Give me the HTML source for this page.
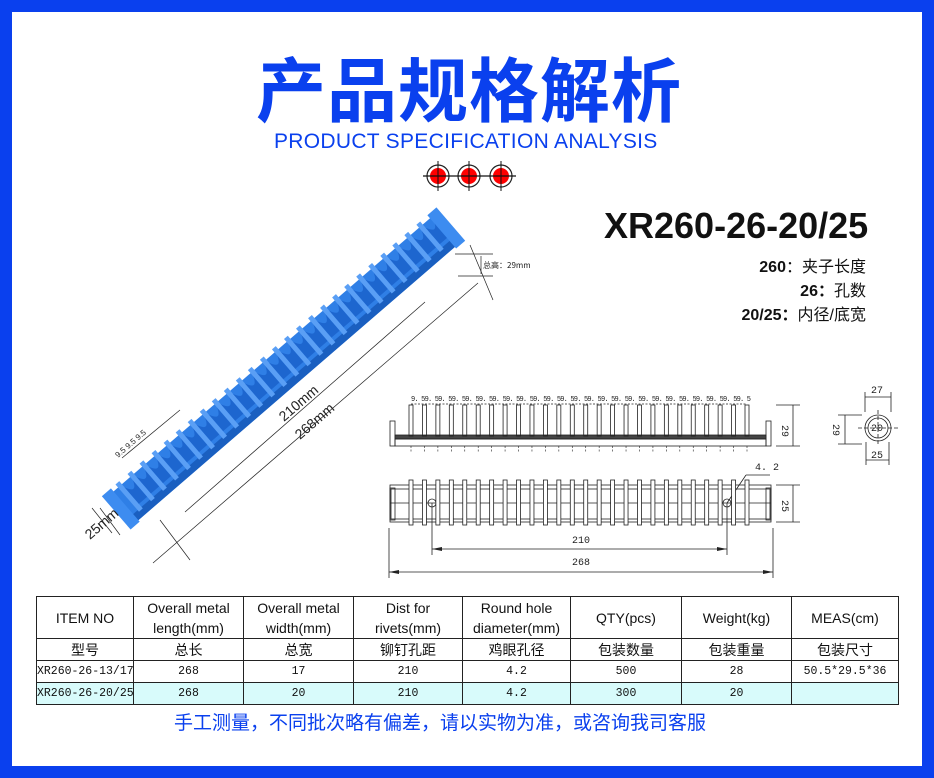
<!DOCTYPE html>
<html><head><meta charset="utf-8"><style>
*{margin:0;padding:0;box-sizing:border-box}
body{width:934px;height:778px;background:#fff;position:relative;overflow:hidden;font-family:"Liberation Sans","Noto Sans CJK SC",sans-serif}
.frame{position:absolute;left:0;top:0;width:934px;height:778px;border:12px solid #0a40ee}
.t{position:absolute;white-space:nowrap;line-height:1}
table{position:absolute;left:36px;top:596px;width:863px;border-collapse:collapse;font-size:13px;table-layout:fixed}
td{border:1.5px solid #222;text-align:center;color:#111;padding:0;white-space:nowrap;overflow:hidden}
.h td{height:42px;line-height:20px;font-size:14px}
.c td{height:22px;font-size:14px;line-height:20px}
.d td{height:22px;font-family:"Liberation Mono","Noto Sans CJK SC",monospace;font-size:11.5px;line-height:20px}
.b td{background:#d8fbfb}
</style></head><body>
<div class="frame"></div>
<div class="t" style="left:256px;top:52px;font-size:70px;font-weight:bold;color:#0a40ee;font-family:'Noto Sans CJK SC',sans-serif;letter-spacing:1px">产品规格解析</div>
<div class="t" style="left:274px;top:131px;font-size:21px;color:#0a40ee;letter-spacing:0.3px">PRODUCT SPECIFICATION ANALYSIS</div>
<div class="t" style="left:604px;top:208px;font-size:36px;font-weight:bold;color:#111">XR260-26-20/25</div>
<div class="t" style="right:68px;top:256px;font-size:16px;color:#111;text-align:right;line-height:24px"><b>260</b>：夹子长度<br><b>26：</b>孔数<br><b>20/25：</b>内径/底宽</div>
<svg id="s" width="934" height="778" style="position:absolute;left:0;top:0" font-family="Liberation Mono,monospace">
<g>
<circle cx="438" cy="176" r="11" fill="none" stroke="#222" stroke-width="1.2"/><circle cx="438" cy="176" r="8" fill="red"/>
<circle cx="469" cy="176" r="11" fill="none" stroke="#222" stroke-width="1.2"/><circle cx="469" cy="176" r="8" fill="red"/>
<circle cx="501" cy="176" r="11" fill="none" stroke="#222" stroke-width="1.2"/><circle cx="501" cy="176" r="8" fill="red"/>
<line x1="423" y1="176" x2="516" y2="176" stroke="#111" stroke-width="1.2"/>
<line x1="438" y1="161" x2="438" y2="191" stroke="#111"/><line x1="469" y1="161" x2="469" y2="191" stroke="#111"/><line x1="501" y1="161" x2="501" y2="191" stroke="#111"/>
</g>
<g transform="translate(126,515) rotate(-40.8)">
<rect x="0" y="-26" width="430" height="38" fill="#2f7fe6"/>
<rect x="0" y="4" width="430" height="8" fill="#1a5fc0"/>
<g id="ribs"></g>
<rect x="-6" y="-30" width="12" height="44" fill="#3d8cf0"/>
<rect x="424" y="-30" width="12" height="44" fill="#3d8cf0"/>
</g>
<g stroke="#222" stroke-width="0.7" fill="none">
<line x1="153" y1="563" x2="478" y2="283"/>
<line x1="185" y1="512" x2="425" y2="302"/>
<line x1="160" y1="520" x2="190" y2="560"/><line x1="470" y1="245" x2="493" y2="300"/>
<line x1="100" y1="508" x2="120" y2="535"/>
<line x1="92" y1="508" x2="112" y2="533"/>
<line x1="455" y1="254" x2="493" y2="254"/><line x1="458" y1="276" x2="493" y2="276"/><line x1="481" y1="256" x2="481" y2="274"/>
<line x1="122" y1="458" x2="180" y2="410"/>
</g>
<text x="483" y="268" font-size="8" font-family="Noto Sans CJK SC,sans-serif" fill="#222">总高：29mm</text>
<text transform="translate(284,422) rotate(-40.8)" font-size="14" font-family="Liberation Sans,sans-serif" fill="#222">210mm</text>
<text transform="translate(300,440) rotate(-40.8)" font-size="14" font-family="Liberation Sans,sans-serif" fill="#222">268mm</text>
<text transform="translate(90,540) rotate(-40.8)" font-size="14" font-family="Liberation Sans,sans-serif" fill="#222">25mm</text>
<text transform="translate(118,458) rotate(-40.8)" font-size="8" font-family="Liberation Sans,sans-serif" fill="#222">9.5 9.5 9.5</text>
<g stroke="#222" fill="none" stroke-width="0.8">
<rect x="390" y="421" width="5" height="25"/><rect x="766" y="421" width="5" height="25"/>
<rect x="395" y="435" width="371" height="4" fill="#444"/><rect x="395" y="439" width="371" height="7"/>
<line x1="776" y1="405" x2="800" y2="405"/><line x1="776" y1="446" x2="800" y2="446"/><line x1="793" y1="405" x2="793" y2="446"/>
<line x1="411" y1="404" x2="747" y2="404" stroke-dasharray="2 1.5"/>
</g>
<text x="411" y="401" font-size="7" fill="#222" textLength="340">9. 59. 59. 59. 59. 59. 59. 59. 59. 59. 59. 59. 59. 59. 59. 59. 59. 59. 59. 59. 59. 59. 59. 59. 59. 5</text>
<text transform="translate(782,425) rotate(90)" font-size="10" fill="#222">29</text>
<g stroke="#222" fill="none" stroke-width="0.8">
<rect x="390" y="485" width="381" height="37"/><rect x="391" y="489" width="379" height="30"/>
<line x1="390" y1="503" x2="771" y2="503"/>
<rect x="390" y="488" width="5" height="32"/><rect x="766" y="488" width="5" height="32"/>
<line x1="776" y1="485" x2="800" y2="485"/><line x1="776" y1="522" x2="800" y2="522"/><line x1="793" y1="485" x2="793" y2="522"/>
<circle cx="432" cy="503" r="4"/><circle cx="727" cy="503" r="4"/>
<line x1="432" y1="503" x2="432" y2="555"/><line x1="727" y1="503" x2="727" y2="555"/>
<line x1="727" y1="503" x2="746" y2="475"/><line x1="746" y1="475" x2="770" y2="475"/>
<line x1="389" y1="528" x2="389" y2="578"/><line x1="773" y1="528" x2="773" y2="578"/>
<line x1="432" y1="549" x2="727" y2="549"/><line x1="389" y1="572" x2="773" y2="572"/>
</g>
<g fill="#222"><path d="M432 549 l10 -2 v4z"/><path d="M727 549 l-10 -2 v4z"/><path d="M389 572 l10 -2 v4z"/><path d="M773 572 l-10 -2 v4z"/></g>
<text x="755" y="470" font-size="10" fill="#222">4. 2</text>
<text x="572" y="543" font-size="10" fill="#222">210</text>
<text x="572" y="565" font-size="10" fill="#222">268</text>
<text transform="translate(782,500) rotate(90)" font-size="10" fill="#222">25</text>
<g stroke="#222" fill="none" stroke-width="0.8">
<circle cx="878" cy="428" r="13"/><circle cx="878" cy="428" r="10"/>
<line x1="858" y1="428" x2="898" y2="428" stroke-dasharray="4 2"/><line x1="878" y1="410" x2="878" y2="446" stroke-dasharray="4 2"/>
<line x1="865" y1="392" x2="865" y2="412"/><line x1="891" y1="392" x2="891" y2="412"/><line x1="865" y1="397" x2="891" y2="397"/>
<line x1="838" y1="415" x2="862" y2="415"/><line x1="838" y1="444" x2="862" y2="444"/><line x1="845" y1="415" x2="845" y2="444"/>
<line x1="866" y1="442" x2="866" y2="465"/><line x1="889" y1="442" x2="889" y2="465"/><line x1="866" y1="460" x2="889" y2="460"/>
</g>
<text x="871" y="393" font-size="10" fill="#222">27</text>
<text x="871" y="431" font-size="10" fill="#222">20</text>
<text x="871" y="458" font-size="10" fill="#222">25</text>
<text transform="translate(833,424) rotate(90)" font-size="10" fill="#222">29</text>
</svg>
<table>
<colgroup><col style="width:97px"><col style="width:110px"><col style="width:110px"><col style="width:109px"><col style="width:108px"><col style="width:111px"><col style="width:110px"><col></colgroup>
<tr class="h"><td>ITEM NO</td><td>Overall metal<br>length(mm)</td><td>Overall metal<br>width(mm)</td><td>Dist for<br>rivets(mm)</td><td>Round hole<br>diameter(mm)</td><td>QTY(pcs)</td><td>Weight(kg)</td><td>MEAS(cm)</td></tr>
<tr class="c"><td>型号</td><td>总长</td><td>总宽</td><td>铆钉孔距</td><td>鸡眼孔径</td><td>包装数量</td><td>包装重量</td><td>包装尺寸</td></tr>
<tr class="d"><td style="text-align:left">XR260-26-13/17</td><td>268</td><td>17</td><td>210</td><td>4.2</td><td>500</td><td>28</td><td>50.5*29.5*36</td></tr>
<tr class="d b"><td style="text-align:left">XR260-26-20/25</td><td>268</td><td>20</td><td>210</td><td>4.2</td><td>300</td><td>20</td><td></td></tr>
</table>
<div class="t" style="left:174px;top:712px;font-size:19px;color:#0a40ee;font-family:'Noto Sans CJK SC',sans-serif">手工测量，不同批次略有偏差，请以实物为准，或咨询我司客服</div>
<script>
var N="http://www.w3.org/2000/svg",s=document.getElementById('s'),r=document.getElementById('ribs');
function el(p,t,a){var e=document.createElementNS(N,t);for(var k in a)e.setAttribute(k,a[k]);p.appendChild(e);return e;}
for(var i=0;i<26;i++){var x=411+i*13.44;
el(s,'rect',{x:x-2,y:405,width:4,height:31,fill:'none',stroke:'#222','stroke-width':0.8});
el(s,'line',{x1:x,y1:446,x2:x,y2:452,stroke:'#222','stroke-width':0.6,'stroke-dasharray':'2 1.5'});
el(s,'rect',{x:x-2,y:480,width:4,height:45,fill:'#fff',stroke:'#222','stroke-width':0.8});
var rx=12+i*15.9;
el(r,'rect',{x:rx,y:-30,width:5,height:36,fill:'#5a9ff5'});
el(r,'path',{d:'M'+(rx+5)+' -22 q6 14 11 0 v22 h-11z',fill:'#1d66cf'});}
</script>
</body></html>
